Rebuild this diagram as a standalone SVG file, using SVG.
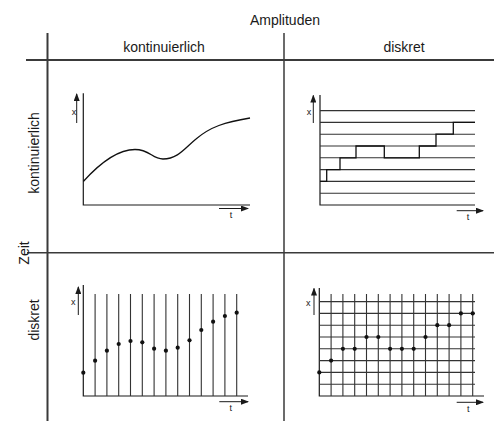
<svg xmlns="http://www.w3.org/2000/svg" width="494" height="421" viewBox="0 0 494 421">
<style>
text{font-family:"Liberation Sans",Arial,sans-serif;fill:#1a1a1a}
.hd{font-size:14px}
.sm{font-size:9px}
.frame{stroke:#3a3a3a;fill:none}
.ax{stroke:#1a1a1a;stroke-width:1.2;fill:none}
.grid{stroke:#333;stroke-width:1.1;fill:none}
.sig{stroke:#111;stroke-width:1.3;fill:none}
.ar{stroke:#1a1a1a;stroke-width:1;fill:none;marker-end:url(#ah)}
.dot{fill:#111}
</style>
<defs>
<marker id="ah" markerUnits="userSpaceOnUse" markerWidth="8" markerHeight="6" refX="7" refY="3" orient="auto">
<path d="M0,0 L8,3 L0,6 z" fill="#1a1a1a"/>
</marker>
</defs>
<g id="frame">
<line class="frame" x1="47.5" y1="33" x2="47.5" y2="421" stroke-width="2"/>
<line class="frame" x1="284" y1="33" x2="284" y2="421" stroke-width="1.5"/>
<line class="frame" x1="26" y1="60" x2="494" y2="60" stroke-width="2.2" stroke="#555"/>
<line class="frame" x1="27" y1="252.7" x2="494" y2="252.7" stroke-width="1.5" stroke="#555"/>
<text class="hd" x="285" y="25" text-anchor="middle">Amplituden</text>
<text class="hd" x="164" y="51.5" text-anchor="middle">kontinuierlich</text>
<text class="hd" x="404" y="51.5" text-anchor="middle">diskret</text>
<text class="hd" transform="translate(39.3,153) rotate(-90)" text-anchor="middle">kontinuierlich</text>
<text class="hd" transform="translate(29.3,253) rotate(-90)" text-anchor="middle">Zeit</text>
<text class="hd" transform="translate(39.3,320) rotate(-90)" text-anchor="middle">diskret</text>
</g>
<g id="panel-kk">
<path class="ax" d="M83.3,93.3 V205 H250"/>
<line class="ar" x1="76.7" y1="123" x2="76.7" y2="94"/>
<text class="sm" x="74" y="115" text-anchor="middle">x</text>
<line class="ar" x1="219" y1="208.5" x2="248" y2="208.5"/>
<text class="sm" x="231" y="218" text-anchor="middle">t</text>
<path class="sig" d="M83.3,181.5 C100,163 118,149.5 135,149.5 C150,149.5 152,159 163,159 C178,159 185,148 196,139 C210,127 225,122 250,118"/>
</g>
<g id="panel-kd">
<path class="ax" d="M320,95 V205 H475"/>
<line class="ar" x1="313.3" y1="123" x2="313.3" y2="95.5"/>
<text class="sm" x="309" y="115" text-anchor="middle">x</text>
<line class="ar" x1="456.7" y1="210.7" x2="483" y2="210.7"/>
<text class="sm" x="468" y="220" text-anchor="middle">t</text>
<path class="grid" d="M320,193.2 H475 M320,181.4 H475 M320,169.6 H475 M320,157.8 H475 M320,146 H475 M320,134.2 H475 M320,122.4 H475 M320,110.6 H475"/>
<path class="sig" d="M320,181.4 H326.7 V169.6 H340 V157.8 H356 V146 H384.3 V157.8 H419.3 V146 H436 V134.2 H453.3 V122.4 H475"/>
</g>
<g id="panel-dk">
<path class="ax" d="M83.3,285 V396 H248"/>
<line class="ar" x1="78.3" y1="315" x2="78.3" y2="287"/>
<text class="sm" x="73.3" y="304.5" text-anchor="middle">x</text>
<line class="ar" x1="219.3" y1="401.7" x2="248" y2="401.7"/>
<text class="sm" x="230.7" y="411" text-anchor="middle">t</text>
<path class="grid" d="M95.1,294 V396 M106.9,294 V396 M118.7,294 V396 M130.5,294 V396 M142.3,294 V396 M154.1,294 V396 M165.9,294 V396 M177.7,294 V396 M189.5,294 V396 M201.3,294 V396 M213.1,294 V396 M224.9,294 V396 M236.7,294 V396"/>
<g class="dot">
<circle cx="83.3" cy="372.7" r="2.1"/>
<circle cx="95.1" cy="360.7" r="2.1"/>
<circle cx="106.9" cy="350.7" r="2.1"/>
<circle cx="118.7" cy="344" r="2.1"/>
<circle cx="130.5" cy="341" r="2.1"/>
<circle cx="142.3" cy="342.3" r="2.1"/>
<circle cx="154.1" cy="348.7" r="2.1"/>
<circle cx="165.9" cy="350.7" r="2.1"/>
<circle cx="177.7" cy="347.7" r="2.1"/>
<circle cx="189.5" cy="340.3" r="2.1"/>
<circle cx="201.3" cy="330" r="2.1"/>
<circle cx="213.1" cy="321.7" r="2.1"/>
<circle cx="224.9" cy="316" r="2.1"/>
<circle cx="236.7" cy="312.7" r="2.1"/>
</g>
</g>
<g id="panel-dd">
<path class="ax" d="M319.3,288 V396 H484"/>
<line class="ar" x1="314" y1="315" x2="314" y2="288.5"/>
<text class="sm" x="308.3" y="305.5" text-anchor="middle">x</text>
<line class="ar" x1="456.7" y1="402.3" x2="483" y2="402.3"/>
<text class="sm" x="468.3" y="411.5" text-anchor="middle">t</text>
<path class="grid" d="M331.1,294 V396 M342.9,294 V396 M354.7,294 V396 M366.5,294 V396 M378.3,294 V396 M390.1,294 V396 M401.9,294 V396 M413.7,294 V396 M425.5,294 V396 M437.3,294 V396 M449.1,294 V396 M460.9,294 V396 M472.7,294 V396"/>
<path class="grid" d="M319.3,384.2 H475 M319.3,372.4 H475 M319.3,360.6 H475 M319.3,348.8 H475 M319.3,337 H475 M319.3,325.2 H475 M319.3,313.4 H475 M319.3,301.6 H475"/>
<g class="dot">
<circle cx="319.3" cy="372.4" r="2.1"/>
<circle cx="331.1" cy="360.6" r="2.1"/>
<circle cx="342.9" cy="348.8" r="2.1"/>
<circle cx="354.7" cy="348.8" r="2.1"/>
<circle cx="366.5" cy="337" r="2.1"/>
<circle cx="378.3" cy="337" r="2.1"/>
<circle cx="390.1" cy="348.8" r="2.1"/>
<circle cx="401.9" cy="348.8" r="2.1"/>
<circle cx="413.7" cy="348.8" r="2.1"/>
<circle cx="425.5" cy="337" r="2.1"/>
<circle cx="437.3" cy="325.2" r="2.1"/>
<circle cx="449.1" cy="325.2" r="2.1"/>
<circle cx="460.9" cy="313.4" r="2.1"/>
<circle cx="472.7" cy="313.4" r="2.1"/>
</g>
</g>
</svg>
